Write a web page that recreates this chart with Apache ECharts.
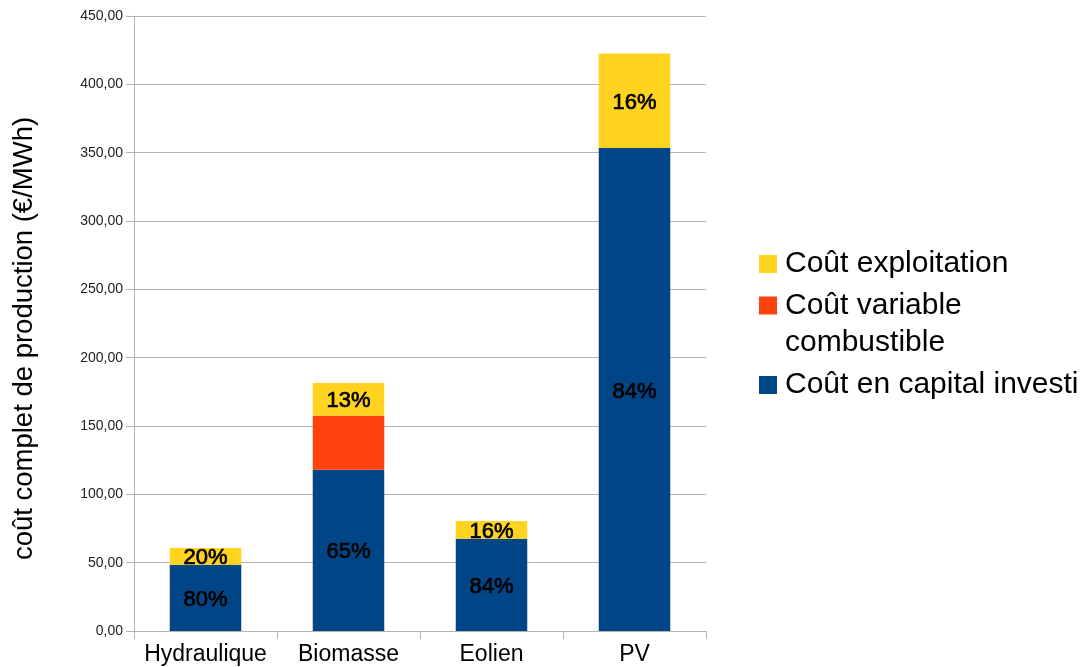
<!DOCTYPE html>
<html>
<head>
<meta charset="utf-8">
<script src="https://cdn.jsdelivr.net/npm/echarts@6/dist/echarts.min.js"></script>
<style>
html,body{margin:0;padding:0;background:#fff;}
#chart{width:1091px;height:667px;}
</style>
</head>
<body>
<div id="chart"></div>
<script>
const categories = ['Hydraulique', 'Biomasse', 'Eolien', 'PV'];
const capital = [48.5, 118, 67.5, 353.5];
const variable = [0, 39.5, 0, 0];
const exploitation = [12.2, 24, 13, 69];
const seriesNames = ['Coût en capital investi', 'Coût variable\ncombustible', 'Coût exploitation'];
const yMin = 0, yMax = 450, yStep = 50;

const totals = categories.map((c, i) => capital[i] + variable[i] + exploitation[i]);
const FONT = '"Liberation Sans", Arial, sans-serif';
const pct = (arr) => (p) => Math.round(arr[p.dataIndex] / totals[p.dataIndex] * 100) + '%';
const barLabel = (arr) => ({
  show: true, position: 'inside', color: '#000', fontFamily: FONT,
  fontSize: 22, fontWeight: 'normal', textBorderColor: '#000', textBorderWidth: 0.7,
  offset: [0, 2], formatter: pct(arr)
});

const chart = echarts.init(document.getElementById('chart'));
const legendText = { fontFamily: FONT, fontSize: 30, color: '#000', padding: [0, 0, 0, 3] };
const legendBase = {
  orient: 'vertical', left: 759, itemWidth: 18, itemHeight: 18, itemGap: 10, padding: 0,
  icon: 'rect', selectedMode: false, textStyle: legendText
};
chart.setOption({
  animation: false,
  backgroundColor: '#fff',
  grid: { left: 134, right: 385, top: 16, bottom: 36 },
  legend: [
    Object.assign({}, legendBase, { top: 249, data: [seriesNames[2]] }),
    Object.assign({}, legendBase, { top: 250, data: [seriesNames[1]],
      formatter: (n) => '\n' + n,
      textStyle: Object.assign({}, legendText, { lineHeight: 37 }) }),
    Object.assign({}, legendBase, { top: 370, data: [seriesNames[0]] })
  ],
  xAxis: {
    type: 'category', data: categories,
    axisLine: { lineStyle: { color: '#b3b3b3' } },
    axisTick: { show: true, length: 8, lineStyle: { color: '#b3b3b3' } },
    axisLabel: { fontFamily: FONT, fontSize: 23, color: '#000', margin: 12, interval: 0 }
  },
  yAxis: {
    type: 'value', min: yMin, max: yMax, interval: yStep,
    name: 'coût complet de production (€/MWh)',
    nameLocation: 'middle', nameGap: 96,
    nameTextStyle: { fontFamily: FONT, fontSize: 27.5, color: '#000', padding: [0, 30, 0, 0] },
    axisLine: { show: true, lineStyle: { color: '#b3b3b3' } },
    axisTick: { show: true, length: 8, lineStyle: { color: '#b3b3b3' } },
    splitLine: { lineStyle: { color: '#b3b3b3' } },
    axisLabel: { fontFamily: FONT, fontSize: 14, color: '#222', margin: 11,
      formatter: (v) => v.toFixed(2).replace('.', ',') }
  },
  series: [
    { name: seriesNames[0], type: 'bar', stack: 'total', barWidth: '50%', data: capital,
      itemStyle: { color: '#004586' }, label: barLabel(capital) },
    { name: seriesNames[1], type: 'bar', stack: 'total', data: variable,
      itemStyle: { color: '#ff420e' }, label: { show: false } },
    { name: seriesNames[2], type: 'bar', stack: 'total', data: exploitation,
      itemStyle: { color: '#ffd320' }, label: barLabel(exploitation) }
  ]
});
</script>
</body>
</html>
